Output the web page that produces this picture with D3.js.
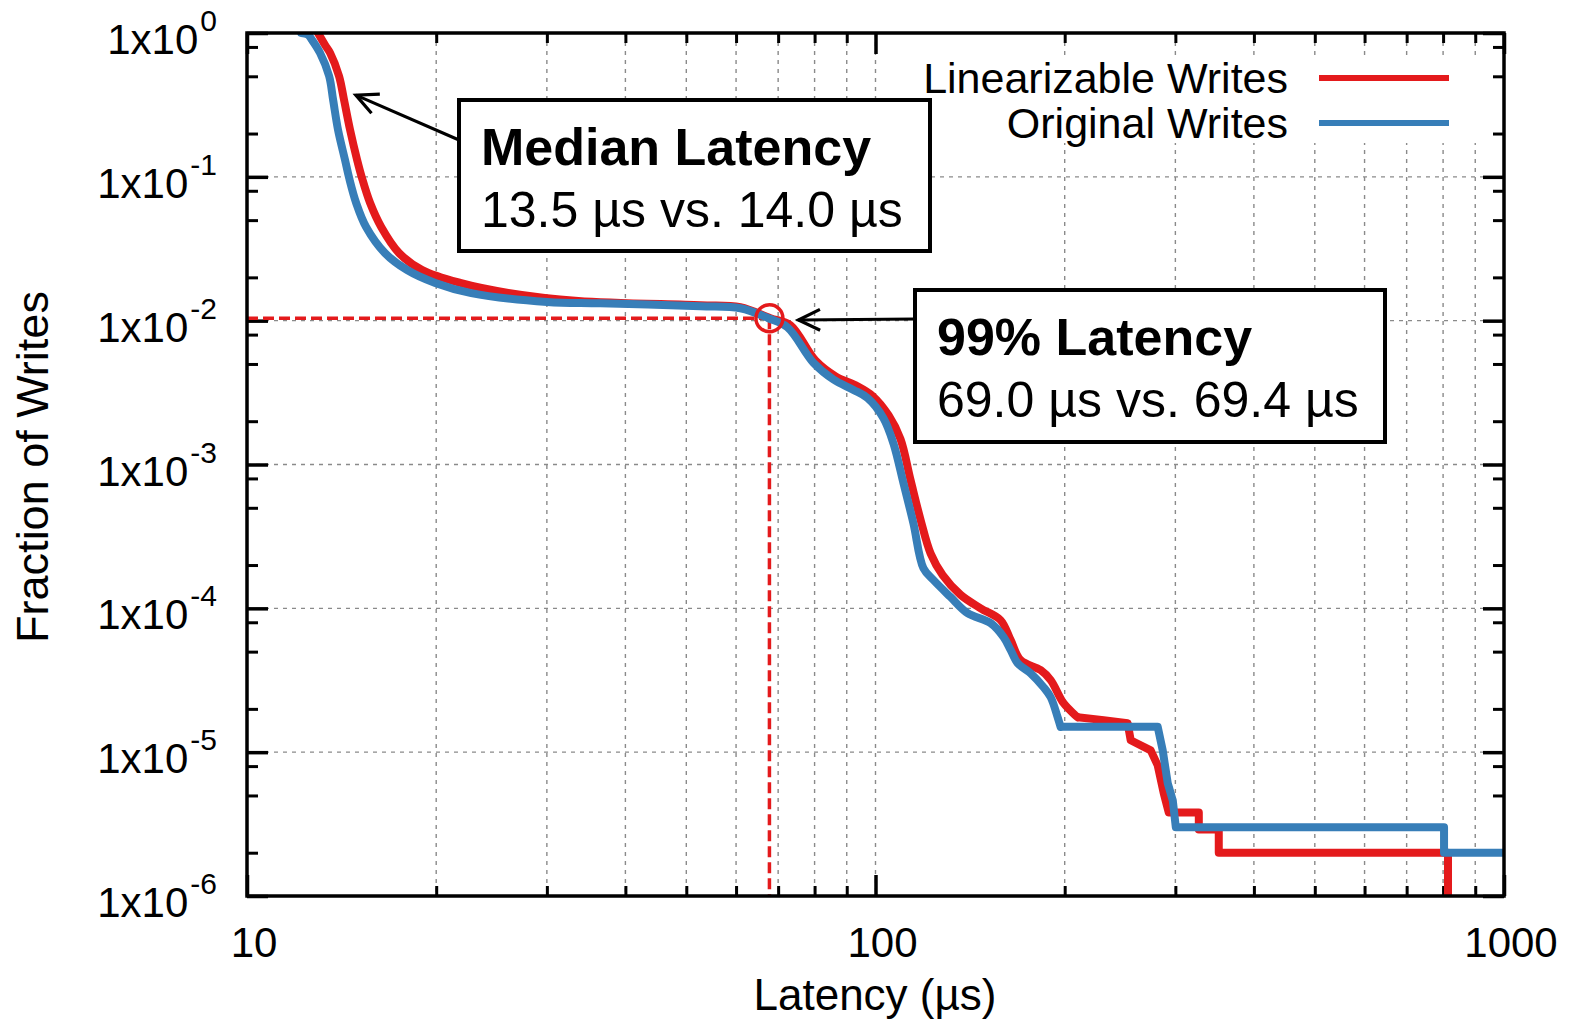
<!DOCTYPE html>
<html>
<head>
<meta charset="utf-8">
<script src="https://cdn.jsdelivr.net/npm/d3@7"></script>
<style>
  html, body { margin: 0; padding: 0; background: #fff; }
</style>
</head>
<body>
<div id="chart"></div>
<script>
// Latency CCDF, linearizable vs original writes
const linLatency = [12.97, 13.31, 13.56, 14.01, 14.27, 14.59, 14.97, 15.24, 15.70, 16.35, 17.46, 19.0, 21.84, 26.04, 33.65,
  52.64, 60.95, 68.05, 73.2, 80.2, 86.4, 93.6, 98.9, 104.9, 109.6, 113.7, 118.0, 122.4, 127.9,
  136.6, 147.0, 158.1, 164.1, 170.2, 183.1, 190.0, 199.2, 209.7, 230.7, 251.9, 254.7, 274.1,
  281.2, 287.4, 292.8, 326.9, 326.9, 351.7, 351.7, 814.5, 814.5];
const linFraction = [1, 0.825, 0.726, 0.502, 0.342, 0.2116, 0.131, 0.098, 0.0657, 0.0448, 0.0295, 0.0225, 0.0183, 0.0156, 0.0137,
  0.0128, 0.0124, 0.0104, 0.0093, 0.0053, 0.0041, 0.0035, 0.0030, 0.0022, 0.0015, 0.00078, 0.00041, 0.00024, 0.00017,
  0.000124, 0.0001, 0.0000828, 0.0000601, 0.0000436, 0.0000372, 0.0000317, 0.0000219, 0.0000175, 0.0000167, 0.0000159, 0.0000121, 0.0000103,
  0.0000081, 0.0000052, 0.0000038, 0.0000038, 0.0000029, 0.0000029, 0.0000020, 0.0000020, 0.000001];

const origLatency = [12.2, 12.5, 12.69, 13.07, 13.51, 13.71, 13.96, 14.32, 14.54, 14.92, 15.47, 16.58, 17.98, 19.93, 22.74, 30.04, 36.48,
  52.64, 60.95, 67.55, 72.41, 79.65, 85.73, 92.26, 97.12, 102.97, 106.8, 110.8, 114.9, 119.2, 123.7,
  131.6, 140.1, 152.5, 159.9, 164.1, 168.3, 176.5, 185.1, 190.0, 194.9, 197.0, 281.2, 286.4,
  291.7, 297.2, 300.5, 802.8, 802.8, 1000];
const origFraction = [1, 0.975, 0.894, 0.726, 0.502, 0.342, 0.2116, 0.131, 0.098, 0.0657, 0.0448, 0.0295, 0.0225, 0.0183, 0.01555, 0.0135, 0.0132,
  0.0126, 0.0122, 0.0104, 0.0090, 0.0051, 0.0039, 0.0033, 0.0029, 0.0021, 0.0014, 0.00074, 0.00039, 0.00019, 0.000157,
  0.00012, 0.0000926, 0.0000789, 0.0000631, 0.0000512, 0.0000416, 0.0000354, 0.0000283, 0.0000241, 0.0000175, 0.000015, 0.000015, 0.0000103,
  0.0000061, 0.0000046, 0.000003, 0.000003, 0.000002, 0.000002];

// where the smooth body of each curve hands over to the stepped tail (index)
const tailStart = [37, 41];

const seriesNames = ["Linearizable Writes", "Original Writes"];
const seriesColors = ["#e41a1c", "#377eb8"];

const xMajorTicks = [10, 100, 1000];
const xMinorTicks = [20, 30, 40, 50, 60, 70, 80, 90, 200, 300, 400, 500, 600, 700, 800, 900];
const xTickLabels = ["10", "100", "1000"];
const yMajorTicks = [1, 1e-1, 1e-2, 1e-3, 1e-4, 1e-5, 1e-6];
const yMinorTicks = [0.8, 0.5, 0.2, 0.08, 0.05, 0.02, 0.008, 0.005, 0.002, 0.0008, 0.0005, 0.0002,
  0.00008, 0.00005, 0.00002, 0.000008, 0.000005, 0.000002];
const yTickExponents = ["0", "-1", "-2", "-3", "-4", "-5", "-6"];

// 99th percentile marker and annotation targets
const p99Marker = { latency: 67.8, fraction: 0.0104 };
const medianArrowTip = { latency: 14.9, fraction: 0.37 };
const p99ArrowTip = { latency: 75.4, fraction: 0.0101 };

const W = 1575, H = 1036;
const margin = { top: 33, right: 71, bottom: 140, left: 247 };
const font = "'Liberation Sans', Arial, Helvetica, sans-serif";

const svg = d3.select("#chart").append("svg")
  .attr("width", W).attr("height", H)
  .style("font-family", font);

const x = d3.scaleLog().domain([10, 1000]).range([margin.left, W - margin.right]);
const y = d3.scaleLog().domain([1e-6, 1]).range([H - margin.bottom, margin.top]);
const [x0, x1] = x.range();
const [y1, y0] = y.range();

svg.append("defs").append("clipPath").attr("id", "plot-clip")
  .append("rect").attr("x", x0).attr("y", y0).attr("width", x1 - x0).attr("height", y1 - y0);

// grid
const grid = svg.append("g").attr("stroke", "#8a8a8a").attr("stroke-width", 1.4).attr("stroke-dasharray", "4,5");
grid.selectAll("line.gx")
  .data(xMinorTicks.concat([100]))
  .join("line").attr("class", "gx")
  .attr("x1", d => x(d)).attr("x2", d => x(d))
  .attr("y1", y0).attr("y2", y1);
grid.selectAll("line.gy")
  .data(yMajorTicks.slice(1, -1))
  .join("line").attr("class", "gy")
  .attr("x1", x0).attr("x2", x1)
  .attr("y1", d => y(d)).attr("y2", d => y(d));

// legend background hides the grid behind the key
svg.append("rect").attr("x", 880).attr("y", 57).attr("width", x1 - 880 - 2).attr("height", 86).attr("fill", "#fff");

// axes with inward ticks on all four sides
function addAxis(axis, tr, values, size, width) {
  const g = svg.append("g").attr("transform", tr)
    .call(axis.tickValues(values).tickSizeInner(-size).tickSizeOuter(0).tickFormat(""));
  g.select(".domain").remove();
  g.selectAll(".tick line").attr("stroke", "#000").attr("stroke-width", width);
}
addAxis(d3.axisBottom(x), `translate(0,${y1})`, xMajorTicks, 21, 3.5);
addAxis(d3.axisBottom(x), `translate(0,${y1})`, xMinorTicks, 10, 3);
addAxis(d3.axisTop(x), `translate(0,${y0})`, xMajorTicks, 21, 3.5);
addAxis(d3.axisTop(x), `translate(0,${y0})`, xMinorTicks, 10, 3);
addAxis(d3.axisLeft(y), `translate(${x0},0)`, yMajorTicks, 21, 3.5);
addAxis(d3.axisLeft(y), `translate(${x0},0)`, yMinorTicks, 11, 3);
addAxis(d3.axisRight(y), `translate(${x1},0)`, yMajorTicks, 21, 3.5);
addAxis(d3.axisRight(y), `translate(${x1},0)`, yMinorTicks, 11, 3);

// 99% guide lines
const px = x(p99Marker.latency), py = y(p99Marker.fraction);
svg.append("line").attr("x1", x0).attr("x2", px).attr("y1", py).attr("y2", py)
  .attr("stroke", seriesColors[0]).attr("stroke-width", 3.5).attr("stroke-dasharray", "11,5");
svg.append("line").attr("x1", px).attr("x2", px).attr("y1", py).attr("y2", y1)
  .attr("stroke", seriesColors[0]).attr("stroke-width", 3.5).attr("stroke-dasharray", "11,5");

// curves: smooth body + stepped tail
const smooth = d3.line().x(d => x(d[0])).y(d => y(d[1])).curve(d3.curveCatmullRom.alpha(0.5));
const steps = d3.line().x(d => x(d[0])).y(d => y(d[1]));
const series = [
  d3.zip(linLatency, linFraction),
  d3.zip(origLatency, origFraction)
];
const curves = svg.append("g").attr("clip-path", "url(#plot-clip)");
series.forEach((pts, i) => {
  const g = curves.append("g")
    .attr("fill", "none")
    .attr("stroke", seriesColors[i])
    .attr("stroke-width", 8)
    .attr("stroke-linejoin", "round");
  g.append("path").attr("d", smooth(pts.slice(0, tailStart[i] + 1))).attr("stroke-linecap", "round");
  g.append("path").attr("d", steps(pts.slice(tailStart[i])));
});

svg.append("circle").attr("cx", px).attr("cy", py).attr("r", 13.5)
  .attr("fill", "none").attr("stroke", seriesColors[0]).attr("stroke-width", 3.5);

// frame
svg.append("rect").attr("x", x0).attr("y", y0).attr("width", x1 - x0).attr("height", y1 - y0)
  .attr("fill", "none").attr("stroke", "#000").attr("stroke-width", 3.5);

// tick labels
svg.append("g").selectAll("text")
  .data(xMajorTicks)
  .join("text")
  .attr("x", d => x(d) + 7).attr("y", 957)
  .attr("text-anchor", "middle").attr("font-size", 42)
  .text((d, i) => xTickLabels[i]);

yMajorTicks.forEach((v, i) => {
  const t = svg.append("text").attr("x", 217).attr("y", y(v) + 21)
    .attr("text-anchor", "end").attr("font-size", 42);
  t.append("tspan").text("1x10");
  t.append("tspan").attr("font-size", 30).attr("dy", -23).attr("dx", 2).text(yTickExponents[i]);
});

// axis titles
svg.append("text").attr("transform", "translate(48,467) rotate(-90)")
  .attr("text-anchor", "middle").attr("font-size", 45).text("Fraction of Writes");
svg.append("text").attr("x", 875).attr("y", 1010)
  .attr("text-anchor", "middle").attr("font-size", 44).text("Latency (µs)");

// legend
seriesNames.forEach((name, i) => {
  const ly = 78 + i * 45;
  svg.append("text").attr("x", 1288).attr("y", ly + 15).attr("text-anchor", "end")
    .attr("font-size", 43).text(name);
  svg.append("line").attr("x1", 1319).attr("x2", 1449).attr("y1", ly).attr("y2", ly)
    .attr("stroke", seriesColors[i]).attr("stroke-width", 6);
});

// annotation arrows and boxes
function arrow(fromX, fromY, tip) {
  const tx = x(tip.latency), ty = y(tip.fraction);
  svg.append("line").attr("x1", fromX).attr("y1", fromY).attr("x2", tx).attr("y2", ty)
    .attr("stroke", "#000").attr("stroke-width", 3);
  const a = Math.atan2(fromY - ty, fromX - tx), len = 24, spread = 0.45;
  svg.append("path")
    .attr("d", `M${tx + len * Math.cos(a - spread)},${ty + len * Math.sin(a - spread)}L${tx},${ty}L${tx + len * Math.cos(a + spread)},${ty + len * Math.sin(a + spread)}`)
    .attr("fill", "none").attr("stroke", "#000").attr("stroke-width", 3.2);
}
arrow(459, 140, medianArrowTip);
arrow(915, 319, p99ArrowTip);

function box(bx, by, bw, bh, title, body) {
  svg.append("rect").attr("x", bx).attr("y", by).attr("width", bw).attr("height", bh)
    .attr("fill", "#fff").attr("stroke", "#000").attr("stroke-width", 4);
  svg.append("text").attr("x", bx + 22).attr("y", by + 65)
    .attr("font-size", 52).attr("font-weight", "bold").text(title);
  svg.append("text").attr("x", bx + 22).attr("y", by + 127)
    .attr("font-size", 50).text(body);
}
box(459, 100, 471, 151, "Median Latency", "13.5 µs vs. 14.0 µs");
box(915, 290, 470, 152, "99% Latency", "69.0 µs vs. 69.4 µs");
</script>
</body>
</html>
